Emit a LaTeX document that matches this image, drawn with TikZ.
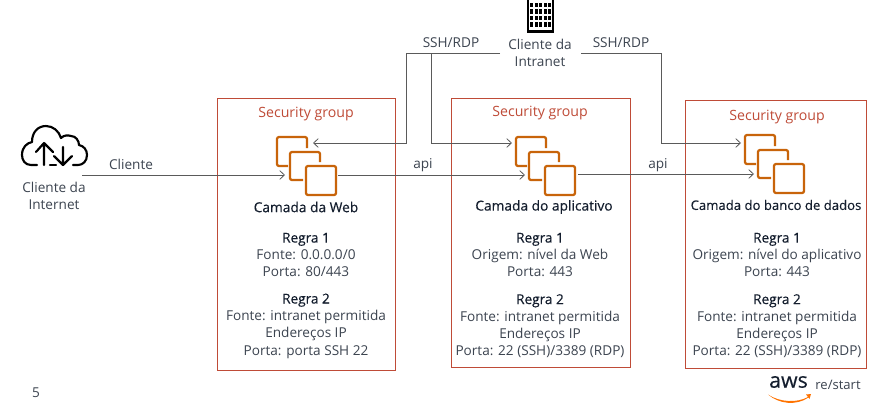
\documentclass[tikz,border=0pt]{standalone}
\usepackage{fontspec}
\setmainfont{Open Sans}
\newfontfamily\hdfont[FakeBold=0.35]{Open Sans}
\usetikzlibrary{arrows.meta}
\definecolor{sgred}{HTML}{BF4B37}
\definecolor{ec2}{HTML}{C8640A}
\definecolor{ln}{HTML}{5A5A5A}
\definecolor{tx}{HTML}{3C4450}
\definecolor{navy}{HTML}{141E2E}
\tikzset{
 sgbox/.style={draw=sgred,line width=0.8pt,fill=none},
 sgt/.style={text=sgred,font=\fontsize{10.6}{12}\selectfont,inner sep=0},
 lbl/.style={text=tx,font=\fontsize{10.2}{12.9}\selectfont,align=center,inner sep=0},
 head/.style={text=navy,font=\fontsize{10.3}{12.9}\selectfont\hdfont,align=center,inner sep=0},
 conn/.style={draw=ln,line width=0.6pt,-{Straight Barb[length=3.5pt,width=6.5pt]}},
 sq/.style={draw=ec2,line width=1.7pt,rounded corners=1.5pt,line join=round},
 cloudline/.style={draw=black,line width=1.6pt,line cap=round,line join=round},
}
\newcommand{\hd}[1]{{\hdfont\color{navy}#1}}
\newcommand{\ecicon}[2]{%
 \begin{scope}[shift={(#1,#2)}]
 \draw[sq] (30,11) -- (30,0) -- (0,0) -- (0,29) -- (11,29);
 \draw[sq] (43,25) -- (43,15) -- (13,15) -- (13,43) -- (26,43);
 \draw[sq] (29,29) rectangle (59,58);
 \end{scope}}
\begin{document}
\begin{tikzpicture}[x=0.75pt,y=-0.75pt]
\useasboundingbox (0,0) rectangle (896,412);
\fill[white] (0,0) rectangle (896,412);
\node[sgbox,minimum width=133.5pt,minimum height=204pt,anchor=north west,inner sep=0] (sg1) at (217,98) {};
\node[sgbox,minimum width=134.25pt,minimum height=201.75pt,anchor=north west,inner sep=0] (sg2) at (451,98) {};
\node[sgbox,minimum width=135.75pt,minimum height=201pt,anchor=north west,inner sep=0] (sg3) at (685,100) {};
\node[sgt] at (306,114) {Security group};
\node[sgt] at (540,113) {Security group};
\node[sgt] at (777,117) {Security group};
% icons
\ecicon{277}{137}\ecicon{516}{137}\ecicon{745}{135}
\coordinate (web) at (285,175);
\coordinate (webout) at (338,175);
\coordinate (app) at (525,175);
\coordinate (appout) at (578,174);
\coordinate (db) at (754,174);
\coordinate (net) at (82,175);
\coordinate (ia) at (500,53);
\coordinate (ib) at (581,53);
\draw[conn] (net) -- (web);
\draw[conn] (webout) -- (app);
\draw[conn] (appout) -- (db);
\draw[conn] (ia) -- (406,53) -- (406,143) -- (313,143);
\draw[conn] (431,53) -- (431,143) -- (512,143);
\draw[conn] (ib) -- (661,53) -- (661,143) -- (741,143);
\node[lbl] at (131,164) {Cliente};
\node[lbl] at (423,165) {api};
\node[lbl] at (658,165) {api};
\node[lbl] at (451,43) {SSH/RDP};
\node[lbl] at (621,43) {SSH/RDP};
\node[lbl] at (540,53) {Cliente da\\Intranet};
\node[lbl] at (54,196) {Cliente da\\Internet};
% building
\fill[black] (527,0) rectangle (554,32.5);
\fill[white] (529,0) rectangle (552,29.5);
\foreach \r in {2.5,9,15.5,22}{\foreach \c in {530,534.5,539,543.5,548}{\fill[black] (\c,\r) rectangle ++(3,4.6);}}
% cloud
\draw[cloudline]
 (37,165) -- (31,165) .. controls (25,165) and (22,160) .. (22,155)
 .. controls (22,147) and (27,143) .. (32,142)
 .. controls (32,132) and (38,126) .. (46,126)
 .. controls (53,126) and (59,131) .. (61,138)
 .. controls (64,135) and (68,135) .. (71,136)
 .. controls (76,136) and (79,141) .. (79,145)
 .. controls (84,146) and (87,150) .. (87,155)
 .. controls (87,161) and (83,165) .. (78,165) -- (73,165);
\draw[cloudline] (44,165) -- (44,143) (36,152) -- (44,143) -- (53,152);
\draw[cloudline] (63,165) -- (63,147) (54,156) -- (63,165) -- (72,156);
\draw[cloudline] (50,165) -- (56,165);
% tiers
\node[head] at (306,207) {Camada da Web};
\node[lbl] at (306,255) {\hd{Regra 1}\\Fonte: 0.0.0.0/0\\Porta: 80/443};
\node[lbl] at (306,326) {\hd{Regra 2}\\Fonte: intranet permitida\\Endereços IP\\Porta: porta SSH 22};
\node[head] at (544,207) {Camada do aplicativo};
\node[lbl] at (540,255) {\hd{Regra 1}\\Origem: nível da Web\\Porta: 443};
\node[lbl] at (540,326) {\hd{Regra 2}\\Fonte: intranet permitida\\Endereços IP\\Porta: 22 (SSH)/3389 (RDP)};
\node[head,font=\fontsize{9.85}{12.9}\selectfont\hdfont] at (776,205) {Camada do banco de dados};
\node[lbl] at (777,255) {\hd{Regra 1}\\Origem: nível do aplicativo\\Porta: 443};
\node[lbl] at (777,326) {\hd{Regra 2}\\Fonte: intranet permitida\\Endereços IP\\Porta: 22 (SSH)/3389 (RDP)};
\node[lbl] at (36,393) {5};
% logo
\node[text=navy,font=\fontsize{16}{16}\selectfont\hdfont,inner sep=0] at (788.5,382) {aws};
\node[lbl,font=\fontsize{9.8}{12}\selectfont] at (838,385) {re/start};
\fill[orange!90!red] (768,394.5) .. controls (780,402.5) and (797,403) .. (808,397) -- (806,394.5) -- (811,394) -- (809.5,399) -- (808.5,397.5) .. controls (796,406) and (779,404) .. (768,394.5);
\end{tikzpicture}
\end{document}
